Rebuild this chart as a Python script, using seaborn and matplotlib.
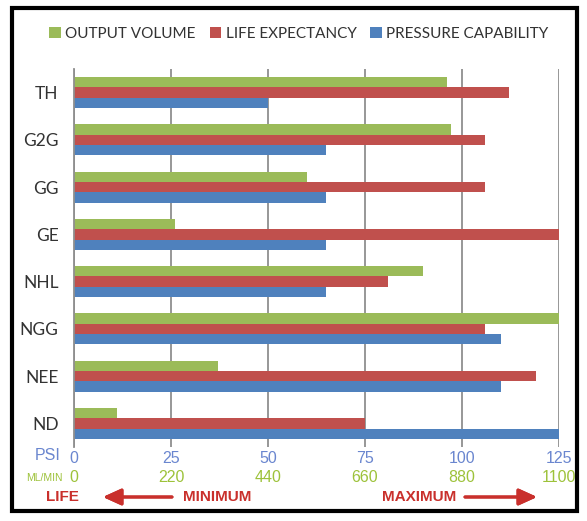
import numpy as np
import pandas as pd
import seaborn as sns
from matplotlib import pyplot as plt
from matplotlib.patches import Rectangle
from matplotlib.ticker import FixedLocator

# values
pumps = ['TH', 'G2G', 'GG', 'GE', 'NHL', 'NGG', 'NEE', 'ND']
output_volume_mlmin = [845, 854, 528, 229, 792, 1100, 326, 97]   # ml/min scale
life_expectancy = [112, 106, 106, 125, 81, 106, 119, 75]          # relative, 0-125
pressure_psi = [50, 65, 65, 65, 65, 110, 110, 125]                # psi

psi_ticks = [0, 25, 50, 75, 100, 125]
ml_ticks = ['0', '220', '440', '660', '880', '1100']
series = ['OUTPUT VOLUME', 'LIFE EXPECTANCY', 'PRESSURE CAPABILITY']
colors = ['#9BBB59', '#C0504D', '#4F81BD']

# put everything onto the psi scale so all bars share one axis
df = pd.DataFrame({
    'pump': pumps * 3,
    'series': np.repeat(series, len(pumps)),
    'value': list(np.array(output_volume_mlmin) * 125 / 1100) + life_expectancy + pressure_psi,
})

W, H = 587, 521
sns.set_style('white')
plt.rcParams['font.family'] = ['Lato', 'DejaVu Sans']

fig = plt.figure(figsize=(W / 100, H / 100), dpi=100)
ax_h = (447 - 69) / H
ax = fig.add_axes([74 / W, 1 - 447 / H, (559 - 74) / W, ax_h])

sns.barplot(data=df, x='value', y='pump', hue='series', order=pumps, hue_order=series,
            palette=colors, orient='h', width=0.66, saturation=1, ax=ax, legend=True,
            linewidth=0, edgecolor='none')

ax.set_xlim(0, 125)
ax.set_ylim(len(pumps) - 0.5, -0.5)
ax.set_xlabel('')
ax.set_ylabel('')
ax.xaxis.grid(True, color='#8f8f8f', lw=1.3)
ax.set_axisbelow(True)
for s in ['top', 'right', 'bottom']:
    ax.spines[s].set_visible(False)
ax.spines['left'].set_color('#8f8f8f')
ax.spines['left'].set_linewidth(1.3)

narrow = ['Liberation Sans Narrow', 'Liberation Sans', 'DejaVu Sans']
blue_txt = '#6A86CF'
green_txt = '#9DC23A'
red_txt = '#C9302C'
ax.set_xticks(psi_ticks, [str(v) for v in psi_ticks], fontfamily=narrow, fontsize=11.5)
ax.tick_params(axis='x', length=0, pad=3, labelcolor=blue_txt)
ax.tick_params(axis='y', which='major', length=0, pad=11, labelsize=12.5, labelcolor='#333333')
ax.yaxis.set_minor_locator(FixedLocator(np.arange(-0.5, len(pumps), 1)))
ax.tick_params(axis='y', which='minor', length=5, width=1.3, color='#8f8f8f', direction='out')

# legend across the top
handles, labels = ax.get_legend_handles_labels()
ax.legend(handles, labels, ncol=3, frameon=False, loc='center',
          bbox_to_anchor=(299 / W, 1 - 34 / H), bbox_transform=fig.transFigure,
          fontsize=11, handlelength=0.75, handleheight=0.75, handletextpad=0.3,
          columnspacing=0.9, labelcolor='#333333')

# secondary scale rows under the axis
fig.text(61 / W, 1 - 456 / H, 'PSI', ha='right', va='center', color=blue_txt,
         fontsize=11.5, family=narrow)
fig.text(63 / W, 1 - 478 / H, 'ML/MIN', ha='right', va='center', color=green_txt,
         fontsize=7.5, family=narrow)
ml_y = -(478 - 447) / H / ax_h
for x, lab in zip(psi_ticks, ml_ticks):
    ax.text(x, ml_y, lab, transform=ax.get_xaxis_transform(), ha='center',
            va='center', color=green_txt, fontsize=11.5, family=narrow)

fig.text(62 / W, 1 - 497 / H, 'LIFE', ha='center', va='center', color=red_txt,
         fontsize=11, fontweight='bold', family=narrow)
fig.text(217 / W, 1 - 497 / H, 'MINIMUM', ha='center', va='center', color=red_txt,
         fontsize=11, fontweight='bold', family=narrow)
fig.text(419 / W, 1 - 497 / H, 'MAXIMUM', ha='center', va='center', color=red_txt,
         fontsize=11, fontweight='bold', family=narrow)
arrow = dict(arrowstyle='-|>,head_length=1.1,head_width=0.5', color=red_txt, lw=2.2,
             shrinkA=0, shrinkB=0)
fig.add_artist(plt.annotate('', xy=(103 / W, 1 - 497 / H), xytext=(172 / W, 1 - 497 / H),
                            xycoords='figure fraction', arrowprops=arrow))
fig.add_artist(plt.annotate('', xy=(537 / W, 1 - 497 / H), xytext=(465 / W, 1 - 497 / H),
                            xycoords='figure fraction', arrowprops=arrow))

# black frame around the whole picture
fig.patches.append(Rectangle((12 / W, 1 - 511 / H), (577 - 12) / W, (511 - 8) / H,
                             transform=fig.transFigure, fill=False, ec='black', lw=3))

fig.savefig('out.png', dpi=100)
